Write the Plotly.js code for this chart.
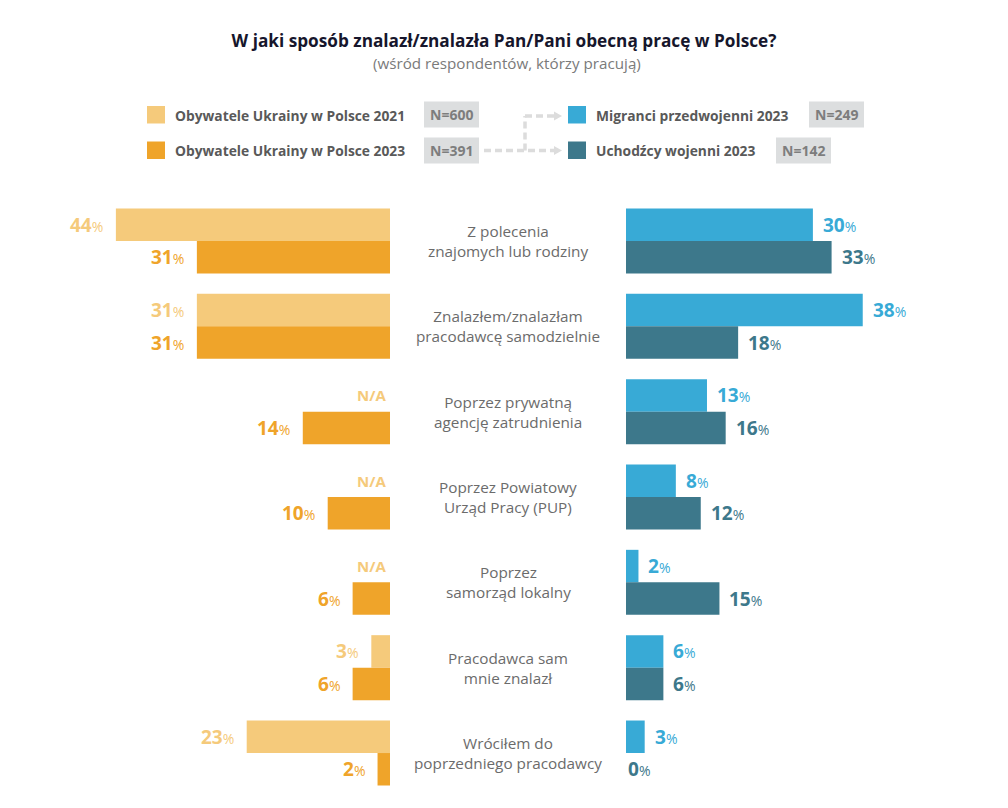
<!DOCTYPE html>
<html><head><meta charset="utf-8">
<script src="https://cdn.plot.ly/plotly-3.0.1.min.js"></script>
<style>html,body{margin:0;padding:0;background:#fff;} #chart{width:1008px;height:808px;}</style>
</head><body><div id="chart"></div>
<script>
// ---------- data ----------
const categories = [
  "Z polecenia<br>znajomych lub rodziny",
  "Znalazłem/znalazłam<br>pracodawcę samodzielnie",
  "Poprzez prywatną<br>agencję zatrudnienia",
  "Poprzez Powiatowy<br>Urząd Pracy (PUP)",
  "Poprzez<br>samorząd lokalny",
  "Pracodawca sam<br>mnie znalazł",
  "Wróciłem do<br>poprzedniego pracodawcy"
];
const ua2021   = [44, 31, null, null, null, 3, 23];
const ua2023   = [31, 31, 14, 10, 6, 6, 2];
const migrants = [30, 38, 13, 8, 2, 6, 3];
const refugees = [33, 18, 16, 12, 15, 6, 0];
const seriesNames = ["Obywatele Ukrainy w Polsce 2021", "Obywatele Ukrainy w Polsce 2023",
                     "Migranci przedwojenni 2023", "Uchodźcy wojenni 2023"];
const sampleSizes = ["N=600", "N=391", "N=249", "N=142"];
const naLabel = "N/A";
const titleText = "W jaki sposób znalazł/znalazła Pan/Pani obecną pracę w Polsce?";
const subtitleText = "(wśród respondentów, którzy pracują)";

// ---------- style ----------
const colors = ["#F5CA7B", "#EFA42A", "#38AAD6", "#3D788B"];
const FONT = "Open Sans, Noto Sans, sans-serif";
const W = 1008, H = 808;
const px = x => x / W;
const py = y => 1 - y / H;
const PXPERPCT = 6.23;
const leftZero = 390, rightZero = 626;
const plotTop = 198.3, plotBottom = 795.7;
const bargap = 0.238;
const pitch = (plotBottom - plotTop) / categories.length;
const barHalf = pitch * (1 - bargap) / 4;

function bar(vals, i, xa) {
  return {
    type: "bar", orientation: "h", name: seriesNames[i],
    y: categories, x: vals, xaxis: xa, yaxis: "y",
    marker: {color: colors[i], line: {width: 0}},
    hoverinfo: "skip", showlegend: false
  };
}
const traces = [
  bar(ua2021, 0, "x"), bar(ua2023, 1, "x"),
  bar(migrants, 2, "x2"), bar(refugees, 3, "x2")
];

function valText(v) {
  return "<b>" + v + "</b><span style=\"font-size:14px;font-weight:400\">%</span>";
}
const annotations = [];
function addLabels(vals, i, xref, side, upper) {
  vals.forEach((v, k) => {
    const ys = upper ? barHalf : -barHalf;
    if (v === null) {
      annotations.push({xref, yref: "y", x: 0, y: categories[k], text: "<b>" + naLabel + "</b>",
        showarrow: false, xanchor: "right", yanchor: "middle", xshift: -2, yshift: ys,
        font: {family: FONT, size: 15, color: colors[i]}});
      return;
    }
    annotations.push({xref, yref: "y", x: v, y: categories[k], text: valText(v),
      showarrow: false, xanchor: side === "left" ? "right" : "left", yanchor: "middle",
      xshift: side === "left" ? -11 : (v > 0 ? 8 : 0), yshift: ys,
      font: {family: FONT, size: 19, color: colors[i]}});
  });
}
addLabels(ua2021, 0, "x", "left", true);
addLabels(ua2023, 1, "x", "left", false);
addLabels(migrants, 2, "x2", "right", true);
addLabels(refugees, 3, "x2", "right", false);

categories.forEach(c => {
  annotations.push({xref: "paper", yref: "y", x: px(508), y: c, text: c, showarrow: false,
    xanchor: "center", yanchor: "middle", yshift: 0,
    font: {family: FONT, size: 15.3, color: "#6b6b6b"}});
});

// subtitle
annotations.push({xref: "paper", yref: "paper", x: 0.503, y: py(63), text: subtitleText,
  showarrow: false, xanchor: "center", yanchor: "middle",
  font: {family: FONT, size: 15.2, color: "#7a7a7a"}});

// legend
const shapes = [];
const legendItems = [
  {sq: [147, 106], tx: 173, ty: 115, box: [424, 479, 101.5, 127.5]},
  {sq: [147, 141.5], tx: 173, ty: 150.5, box: [424, 479, 137.5, 163.5]},
  {sq: [568, 106], tx: 594, ty: 115, box: [809, 864, 101.5, 127.5]},
  {sq: [568, 141.5], tx: 594, ty: 150.5, box: [776, 831, 137.5, 163.5]}
];
legendItems.forEach((it, i) => {
  shapes.push({type: "rect", xref: "paper", yref: "paper",
    x0: px(it.sq[0]), x1: px(it.sq[0] + 18), y0: py(it.sq[1]), y1: py(it.sq[1] + 17.5),
    fillcolor: colors[i], line: {width: 0}});
  annotations.push({xref: "paper", yref: "paper", x: px(it.tx), y: py(it.ty),
    text: "<b>" + seriesNames[i] + "</b>", showarrow: false, xanchor: "left", yanchor: "middle",
    font: {family: FONT, size: 13.8, color: "#595959"}});
  const b = it.box;
  shapes.push({type: "rect", xref: "paper", yref: "paper",
    x0: px(b[0]), x1: px(b[1]), y0: py(b[2]), y1: py(b[3]),
    fillcolor: "#dcdedf", line: {width: 0}});
  annotations.push({xref: "paper", yref: "paper", x: px((b[0] + b[1]) / 2), y: py((b[2] + b[3]) / 2),
    text: "<b>" + sampleSizes[i] + "</b>", showarrow: false, xanchor: "center", yanchor: "middle",
    font: {family: FONT, size: 14, color: "#7d7d7d"}});
});

// dashed connectors
const dash = {color: "#dcdcdc", width: 3.5, dash: "7px,4px"};
[[484, 150.5, 555, 150.5], [525, 150.5, 525, 116], [525, 116, 555, 116]].forEach(l => {
  shapes.push({type: "line", xref: "paper", yref: "paper",
    x0: px(l[0]), y0: py(l[1]), x1: px(l[2]), y1: py(l[3]), line: dash});
});
[150.5, 116].forEach(yy => {
  shapes.push({type: "path", xref: "paper", yref: "paper",
    path: `M ${px(554)} ${py(yy - 4.5)} L ${px(562)} ${py(yy)} L ${px(554)} ${py(yy + 4.5)} Z`,
    fillcolor: "#dcdcdc", line: {width: 0}});
});

const layout = {
  width: W, height: H,
  margin: {l: 0, r: 0, t: 0, b: 0},
  paper_bgcolor: "#ffffff", plot_bgcolor: "rgba(0,0,0,0)",
  font: {family: FONT},
  title: {text: "<b>" + titleText + "</b>", x: 0.5, xanchor: "center",
    yref: "container", y: py(40.5), yanchor: "middle",
    font: {family: FONT, size: 17.2, color: "#16162c"}},
  barmode: "group", bargap: bargap, bargroupgap: 0,
  xaxis: {domain: [0, px(leftZero)], range: [leftZero / PXPERPCT, 0], visible: false, fixedrange: true},
  xaxis2: {domain: [px(rightZero), 1], range: [0, (W - rightZero) / PXPERPCT], visible: false, fixedrange: true, anchor: "y"},
  yaxis: {domain: [py(plotBottom), py(plotTop)], type: "category", categoryorder: "array",
    categoryarray: categories, range: [categories.length - 0.5, -0.5], visible: false, fixedrange: true},
  shapes, annotations,
  showlegend: false
};
Plotly.newPlot("chart", traces, layout, {displayModeBar: false, staticPlot: true});
</script>
</body></html>
